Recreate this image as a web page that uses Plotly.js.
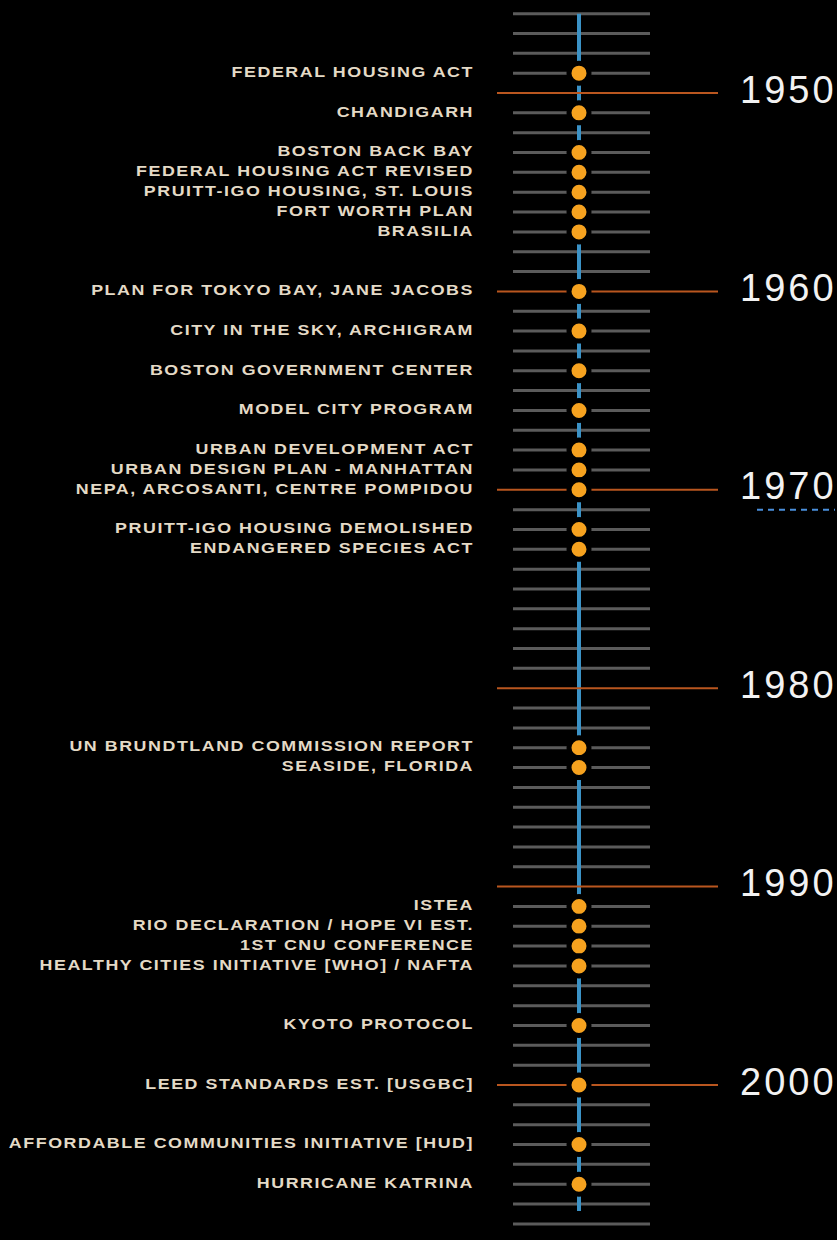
<!DOCTYPE html>
<html>
<head>
<meta charset="utf-8">
<script src="https://cdn.plot.ly/plotly-3.0.1.min.js"></script>
<style>
  html, body { margin: 0; padding: 0; background: #000; }
  #chart { width: 837px; height: 1240px; }
  .textpoint text[text-anchor="end"] {
    letter-spacing: 1.3px;
    transform-box: fill-box;
    transform-origin: 100% 50%;
    transform: scaleX(1.19);
  }
  .textpoint text[text-anchor="start"] { letter-spacing: 3px; }
</style>
</head>
<body>
<div id="chart"></div>
<script>
// ---------------- DATA ----------------
const tickYears = [1946, 1947, 1948, 1949, 1950, 1951, 1952, 1953, 1954, 1955, 1956, 1957, 1958, 1959,
  1960, 1961, 1962, 1963, 1964, 1965, 1966, 1967, 1968, 1969, 1970, 1971, 1972, 1973, 1974, 1975,
  1976, 1977, 1978, 1979, 1980, 1981, 1982, 1983, 1984, 1985, 1986, 1987, 1988, 1989, 1990, 1991,
  1992, 1993, 1994, 1995, 1996, 1997, 1998, 1999, 2000, 2001, 2002, 2003, 2004, 2005, 2006, 2007, 2008];

const decadeYears = [1950, 1960, 1970, 1980, 1990, 2000];
const decadeLabels = ["1950", "1960", "1970", "1980", "1990", "2000"];

const eventYears = [1949, 1951, 1953, 1954, 1955, 1956, 1957, 1960, 1962, 1964, 1966, 1968, 1969, 1970,
  1972, 1973, 1983, 1984, 1991, 1992, 1993, 1994, 1997, 2000, 2003, 2005];
const eventLabels = [
  "FEDERAL HOUSING ACT",
  "CHANDIGARH",
  "BOSTON BACK BAY",
  "FEDERAL HOUSING ACT REVISED",
  "PRUITT-IGO HOUSING, ST. LOUIS",
  "FORT WORTH PLAN",
  "BRASILIA",
  "PLAN FOR TOKYO BAY, JANE JACOBS",
  "CITY IN THE SKY, ARCHIGRAM",
  "BOSTON GOVERNMENT CENTER",
  "MODEL CITY PROGRAM",
  "URBAN DEVELOPMENT ACT",
  "URBAN DESIGN PLAN - MANHATTAN",
  "NEPA, ARCOSANTI, CENTRE POMPIDOU",
  "PRUITT-IGO HOUSING DEMOLISHED",
  "ENDANGERED SPECIES ACT",
  "UN BRUNDTLAND COMMISSION REPORT",
  "SEASIDE, FLORIDA",
  "ISTEA",
  "RIO DECLARATION / HOPE VI EST.",
  "1ST CNU CONFERENCE",
  "HEALTHY CITIES INITIATIVE [WHO] / NAFTA",
  "KYOTO PROTOCOL",
  "LEED STANDARDS EST. [USGBC]",
  "AFFORDABLE COMMUNITIES INITIATIVE [HUD]",
  "HURRICANE KATRINA"
];

const timelineStart = 1946;
const timelineEnd = 2006.35;

// ---------------- LAYOUT CONSTANTS ----------------
const W = 837, H = 1240;
const AXIS_X = 579;
const TICK_X0 = 513, TICK_X1 = 650;
const DEC_X0 = 497, DEC_X1 = 718;
const LABEL_X = 474;
const DEC_LABEL_X = 740;
const PX_PER_YEAR = 19.84;
const YEAR_TOP = 1950 - 93 / PX_PER_YEAR;
const YEAR_BOTTOM = YEAR_TOP + H / PX_PER_YEAR;

// ---------------- BUILD TRACES ----------------
const grayX = [], grayY = [];
tickYears.forEach(y => {
  if (decadeYears.indexOf(y) === -1) {
    grayX.push(TICK_X0, TICK_X1, null);
    grayY.push(y, y, null);
  }
});
const decX = [], decY = [];
decadeYears.forEach(y => {
  decX.push(DEC_X0, DEC_X1, null);
  decY.push(y, y, null);
});

const traces = [
  { type: 'scatter', mode: 'lines', x: grayX, y: grayY, hoverinfo: 'skip',
    line: { color: '#5b5b5b', width: 3 } },
  { type: 'scatter', mode: 'lines', x: [AXIS_X, AXIS_X], y: [timelineStart, timelineEnd], hoverinfo: 'skip',
    line: { color: '#3b92c6', width: 4 } },
  { type: 'scatter', mode: 'lines', x: decX, y: decY, hoverinfo: 'skip',
    line: { color: '#b9561f', width: 2 } },
  // spell-check style dashed underline under the 1970 label
  { type: 'scatter', mode: 'lines', x: [757, 835], y: [1971.0, 1971.0], hoverinfo: 'skip',
    line: { color: '#4a8fdc', width: 2, dash: '6px,5px' } },
  { type: 'scatter', mode: 'markers', x: eventYears.map(() => AXIS_X), y: eventYears, hoverinfo: 'skip',
    marker: { color: '#f6a21f', size: 20, line: { color: '#000000', width: 5 } } },
  { type: 'scatter', mode: 'text', x: eventYears.map(() => LABEL_X), y: eventYears, text: eventLabels,
    textposition: 'middle left', hoverinfo: 'skip',
    textfont: { family: 'Liberation Sans, Arial, sans-serif', size: 15, weight: 'bold', color: '#e4dac6' } },
  { type: 'scatter', mode: 'text', x: decadeYears.map(() => DEC_LABEL_X), y: decadeYears, text: decadeLabels,
    textposition: 'middle right', hoverinfo: 'skip',
    textfont: { family: 'Liberation Sans, Arial, sans-serif', size: 38, color: '#f2f2f2' } }
];

const layout = {
  width: W, height: H,
  margin: { l: 0, r: 0, t: 0, b: 0, pad: 0 },
  paper_bgcolor: '#000000', plot_bgcolor: '#000000',
  showlegend: false,
  xaxis: { range: [0, W], visible: false, fixedrange: true },
  yaxis: { range: [YEAR_BOTTOM, YEAR_TOP], visible: false, fixedrange: true },
  hovermode: false
};

Plotly.newPlot('chart', traces, layout, { displayModeBar: false, staticPlot: true });
</script>
</body>
</html>
